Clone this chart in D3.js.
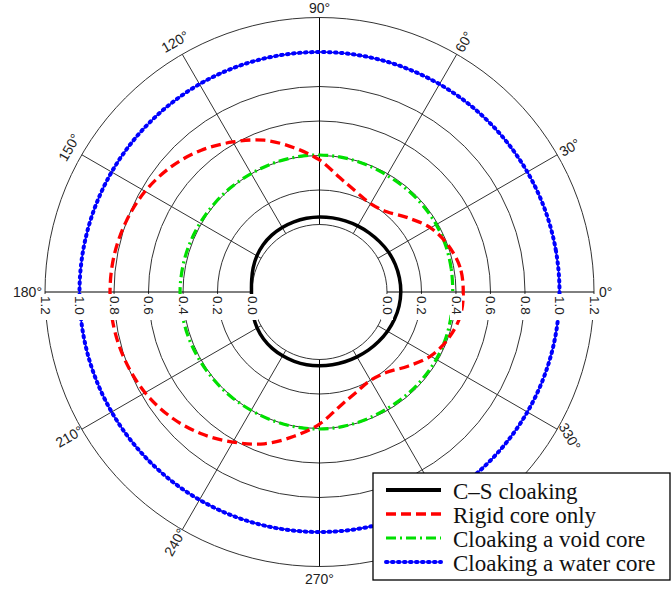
<!DOCTYPE html>
<html>
<head>
<meta charset="utf-8">
<script src="https://cdn.jsdelivr.net/npm/d3@7"></script>
<style>
  body { margin: 0; background: #fff; }
  svg { display: block; }
</style>
</head>
<body>
<svg id="polar" width="672" height="590"></svg>
<script>
// angles in degrees, counter-clockwise from the 0° axis
const angles = d3.range(0, 360, 10)

const csCloaking = [
  0.080, 0.079, 0.076, 0.071, 0.063, 0.056, 0.051, 0.047, 0.045,
  0.044, 0.043, 0.042, 0.041, 0.039, 0.035, 0.028, 0.018, 0.008,
  0.003, 0.008, 0.017, 0.026, 0.032, 0.035, 0.036, 0.037, 0.037,
  0.036, 0.037, 0.039, 0.043, 0.049, 0.056, 0.064, 0.071, 0.077
]
const rigidCore = [
  0.442, 0.436, 0.402, 0.352, 0.278, 0.216, 0.200, 0.228, 0.282,
  0.374, 0.458, 0.545, 0.613, 0.680, 0.735, 0.776, 0.802, 0.818,
  0.823, 0.818, 0.802, 0.776, 0.735, 0.680, 0.613, 0.545, 0.458,
  0.374, 0.282, 0.228, 0.200, 0.216, 0.278, 0.352, 0.402, 0.436
]
const voidCore = [
  0.381, 0.384, 0.388, 0.390, 0.390, 0.390, 0.390, 0.395, 0.400,
  0.403, 0.403, 0.402, 0.401, 0.403, 0.405, 0.408, 0.412, 0.415,
  0.417, 0.415, 0.412, 0.408, 0.405, 0.403, 0.401, 0.402, 0.403,
  0.403, 0.400, 0.395, 0.390, 0.390, 0.390, 0.390, 0.388, 0.384
]
const waterCore = angles.map(() => 1.0)

const radialTicks = [0, 0.2, 0.4, 0.6, 0.8, 1.0, 1.2]
const angleTicks = d3.range(0, 360, 30)

const series = [
  { name: "C\u2013S cloaking", values: csCloaking, color: "#000000", width: 3.5, dash: null },
  { name: "Rigid core only", values: rigidCore, color: "#ff0000", width: 3.3, dash: "10,5" },
  { name: "Cloaking a void core", values: voidCore, color: "#00e000", width: 3.2, dash: "10,4,2,4" },
  { name: "Cloaking a water core", values: waterCore, color: "#0000ff", width: 4, dash: "1.5,4.5", dotted: true }
]

const cx = 319.5, cy = 292
const r = d3.scaleLinear().domain([0, 1.2]).range([67.5, 274.5])
const rad = d => d * Math.PI / 180

const svg = d3.select("#polar")
const g = svg.append("g").attr("transform", `translate(${cx},${cy})`)

// grid circles
g.append("g")
  .selectAll("circle")
  .data(radialTicks)
  .join("circle")
  .attr("r", d => r(d))
  .attr("fill", "none")
  .attr("stroke", "#333")
  .attr("stroke-width", 1)

// spokes
g.append("g")
  .selectAll("line")
  .data(angleTicks)
  .join("line")
  .attr("x1", d => r(0) * Math.cos(rad(d)))
  .attr("y1", d => -r(0) * Math.sin(rad(d)))
  .attr("x2", d => r(1.2) * Math.cos(rad(d)))
  .attr("y2", d => -r(1.2) * Math.sin(rad(d)))
  .attr("stroke", d => d % 90 === 0 ? "#000" : "#333")
  .attr("stroke-width", 1)

// curves
const line = d3.lineRadial()
  .angle(d => Math.PI / 2 - rad(d.a))
  .radius(d => r(d.v))
  .curve(d3.curveCardinalClosed)

series.slice().reverse().forEach(s => {
  const pts = angles.map((a, i) => ({ a, v: s.values[i] }))
  if (s.dotted) {
    g.append("path")
      .attr("d", line(pts))
      .attr("fill", "none")
      .attr("stroke", s.color)
      .attr("stroke-width", 1.2)
  }
  g.append("path")
    .attr("d", line(pts))
    .attr("fill", "none")
    .attr("stroke", s.color)
    .attr("stroke-width", s.width)
    .attr("stroke-dasharray", s.dash)
    .attr("stroke-linecap", s.dotted ? "round" : "butt")
})

// radial tick labels, on both sides of the horizontal axis
const labelFont = "'Liberation Sans', Arial, sans-serif"
const rLabels = g.append("g")
radialTicks.forEach(t => {
  [1, -1].forEach(side => {
    const x = side * r(t)
    rLabels.append("rect")
      .attr("x", x - 6).attr("y", 2)
      .attr("width", 12).attr("height", 26)
      .attr("fill", "#fff")
    rLabels.append("text")
      .attr("transform", `translate(${x},4) rotate(90)`)
      .attr("dominant-baseline", "central")
      .attr("font-family", labelFont)
      .attr("font-size", 13.5)
      .attr("fill", "#222")
      .text(t.toFixed(1))
  })
})

// angle labels
const rotFor = a => {
  if (a % 90 === 0) return 0
  if (a < 90) return -a
  if (a < 180) return -(a - 90)
  if (a < 270) return -(a - 180)
  return a - 270
}
const aLabels = g.append("g")
  .attr("font-family", labelFont)
  .attr("font-size", 14)
  .attr("fill", "#222")
angleTicks.forEach(a => {
  const t = aLabels.append("text").text(a + "\u00b0")
  if (a === 0) {
    t.attr("x", r(1.2) + 5).attr("y", 0).attr("dominant-baseline", "central")
  } else if (a === 180) {
    t.attr("x", -r(1.2) - 3).attr("y", 0).attr("text-anchor", "end").attr("dominant-baseline", "central")
  } else if (a === 90) {
    t.attr("x", 0).attr("y", -r(1.2) - 5).attr("text-anchor", "middle")
  } else if (a === 270) {
    t.attr("x", 0).attr("y", r(1.2) + 17).attr("text-anchor", "middle")
  } else {
    const px = 289 * Math.cos(rad(a)), py = -289 * Math.sin(rad(a))
    t.attr("transform", `translate(${px},${py}) rotate(${rotFor(a)})`)
      .attr("text-anchor", "middle")
      .attr("dominant-baseline", "central")
  }
})

// legend
const legend = svg.append("g").attr("transform", "translate(373,473)")
legend.append("rect")
  .attr("width", 297).attr("height", 107)
  .attr("fill", "#fff")
  .attr("stroke", "#000")
  .attr("stroke-width", 1.3)

series.forEach((s, i) => {
  const y = 17 + i * 24
  if (s.dotted) {
    legend.append("line")
      .attr("x1", 13).attr("x2", 68).attr("y1", y).attr("y2", y)
      .attr("stroke", s.color).attr("stroke-width", 1.2)
  }
  legend.append("line")
    .attr("x1", 13).attr("x2", 68).attr("y1", y).attr("y2", y)
    .attr("stroke", s.color)
    .attr("stroke-width", s === series[0] ? 4 : s.width)
    .attr("stroke-dasharray", s.dash)
    .attr("stroke-linecap", s.dotted ? "round" : "butt")
  legend.append("text")
    .attr("x", 80).attr("y", y + 1)
    .attr("dominant-baseline", "central")
    .attr("font-family", "'Liberation Serif', 'Times New Roman', serif")
    .attr("font-size", 23)
    .attr("fill", "#111")
    .text(s.name)
})
</script>
</body>
</html>
